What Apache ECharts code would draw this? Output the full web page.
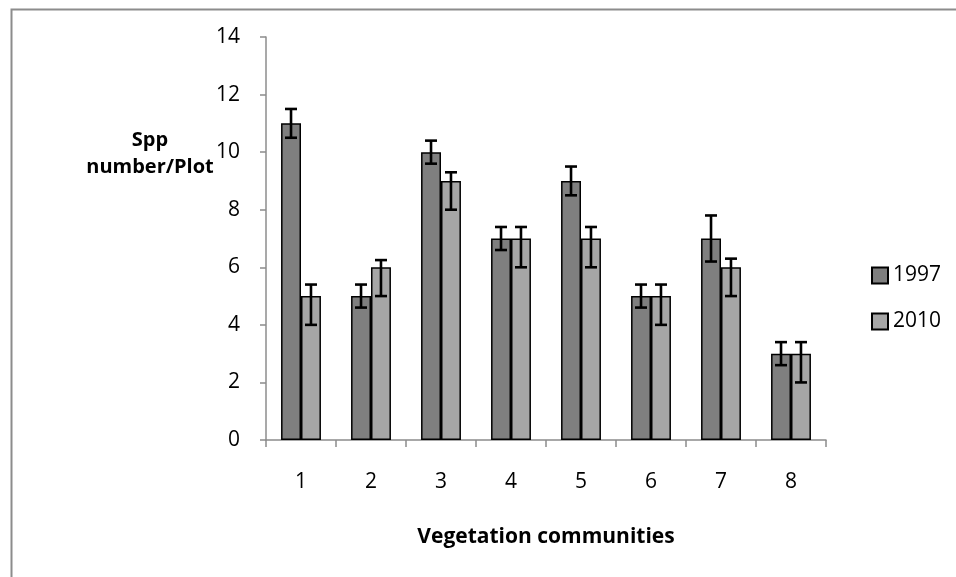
<!DOCTYPE html>
<html>
<head>
<meta charset="utf-8">
<script src="https://cdn.jsdelivr.net/npm/echarts@6/dist/echarts.min.js"></script>
<style>html,body{margin:0;padding:0;background:#fff}#c{width:956px;height:577px}</style>
</head>
<body>
<div id="c"></div>
<script>
const categories = ['1','2','3','4','5','6','7','8'];
const values1997 = [11, 5, 10, 7, 9, 5, 7, 3];
const values2010 = [5, 6, 9, 7, 7, 5, 6, 3];
const err1997Low  = [10.5, 4.6, 9.6, 6.6, 8.5, 4.6, 6.2, 2.6];
const err1997High = [11.5, 5.4, 10.4, 7.4, 9.5, 5.4, 7.8, 3.4];
const err2010Low  = [4, 5, 8, 6, 6, 4, 5, 2];
const err2010High = [5.4, 6.25, 9.3, 7.4, 7.4, 5.4, 6.3, 3.4];
const yTicks = [0, 2, 4, 6, 8, 10, 12, 14];

const FONT = '"Open Sans", sans-serif';
const CAT_GAP = 0.43;

function errData(lo, hi) {
  return categories.map((c, i) => [i, lo[i], hi[i]]);
}
function errRender(side) {
  return function (params, api) {
    const i = api.value(0);
    const pHi = api.coord([i, api.value(2)]);
    const pLo = api.coord([i, api.value(1)]);
    const band = api.size([1, 0])[0];
    const barW = band * (1 - CAT_GAP) / 2;
    const x = pHi[0] + side * barW / 2;
    const cap = 6;
    const st = { stroke: '#000', lineWidth: 2.6 };
    return {
      type: 'group',
      children: [
        { type: 'line', shape: { x1: x, y1: pHi[1], x2: x, y2: pLo[1] }, style: st },
        { type: 'line', shape: { x1: x - cap, y1: pHi[1], x2: x + cap, y2: pHi[1] }, style: st },
        { type: 'line', shape: { x1: x - cap, y1: pLo[1], x2: x + cap, y2: pLo[1] }, style: st }
      ]
    };
  };
}

const chart = echarts.init(document.getElementById('c'));
chart.setOption({
  animation: false,
  backgroundColor: '#fff',
  textStyle: { fontFamily: FONT },
  grid: { left: 266, right: 130, top: 37, bottom: 137 },
  graphic: [
    { type: 'rect', left: 9, top: 7, shape: { width: 1000, height: 1000 },
      style: { fill: 'none', stroke: '#8c8c8c', lineWidth: 2 }, silent: true },
    { type: 'text', x: 150, y: 140, style: { text: 'Spp', font: 'bold 20px ' + FONT, fill: '#000', align: 'center', verticalAlign: 'middle' } },
    { type: 'text', x: 150, y: 167, style: { text: 'number/Plot', font: 'bold 20px ' + FONT, fill: '#000', align: 'center', verticalAlign: 'middle' } }
  ],
  legend: {
    orient: 'vertical',
    left: 866,
    top: 260,
    itemWidth: 16,
    itemHeight: 16,
    itemGap: 25,
    icon: 'rect',
    data: ['1997', '2010'],
    textStyle: { fontSize: 21, color: '#000', fontFamily: FONT }
  },
  xAxis: {
    type: 'category',
    data: categories,
    name: 'Vegetation communities',
    nameLocation: 'middle',
    nameGap: 87,
    nameTextStyle: { fontSize: 21, fontWeight: 'bold', color: '#000', fontFamily: FONT },
    axisLine: { lineStyle: { color: '#8c8c8c', width: 1.5 } },
    axisTick: { show: true, length: 7, lineStyle: { color: '#8c8c8c', width: 1.5 } },
    axisLabel: { fontSize: 21, color: '#000', margin: 32 }
  },
  yAxis: {
    type: 'value',
    min: 0, max: 14, interval: 2,
    axisLine: { show: true, lineStyle: { color: '#8c8c8c', width: 1.5 } },
    axisTick: { show: true, length: 6, lineStyle: { color: '#8c8c8c', width: 1.5 } },
    splitLine: { show: false },
    axisLabel: { fontSize: 21, color: '#000', margin: 26,
      formatter: v => yTicks.includes(v) ? String(v) : '' }
  },
  series: [
    { name: '1997', type: 'bar', data: values1997, barGap: '0%', barCategoryGap: (CAT_GAP * 100) + '%',
      itemStyle: { color: '#7f7f7f', borderColor: '#000', borderWidth: 1.5 } },
    { name: '2010', type: 'bar', data: values2010, barGap: '0%', barCategoryGap: (CAT_GAP * 100) + '%',
      itemStyle: { color: '#a6a6a6', borderColor: '#000', borderWidth: 1.5 } },
    { name: 'err1997', type: 'custom', data: errData(err1997Low, err1997High), renderItem: errRender(-1), z: 5, silent: true },
    { name: 'err2010', type: 'custom', data: errData(err2010Low, err2010High), renderItem: errRender(1), z: 5, silent: true }
  ]
});
</script>
</body>
</html>
